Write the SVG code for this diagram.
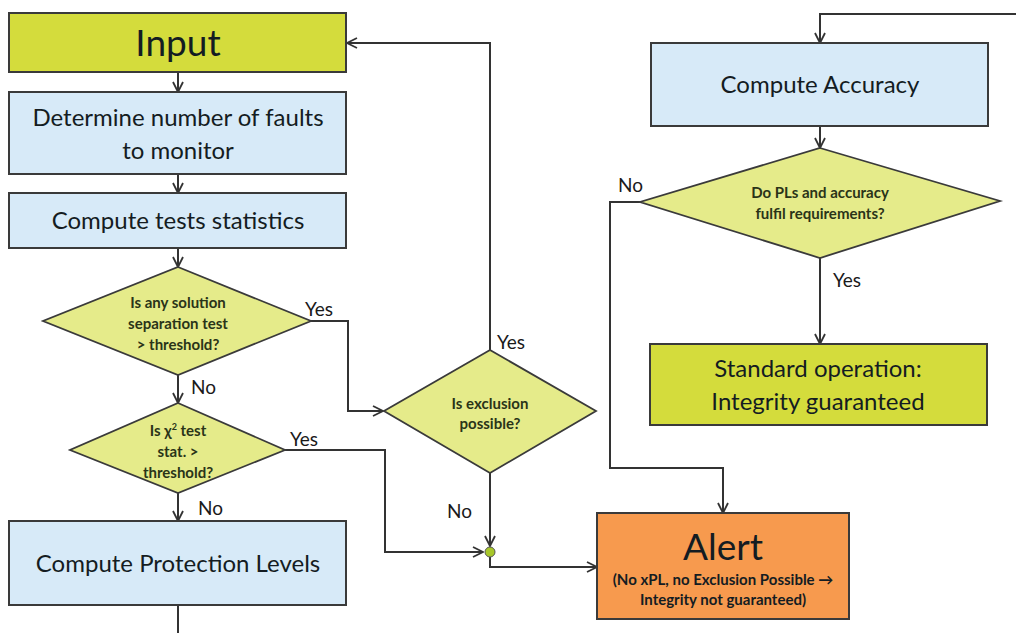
<svg xmlns="http://www.w3.org/2000/svg" width="1016" height="633" viewBox="0 0 1016 633">
  <style>
    .box { stroke: #3a3a3a; stroke-width: 2; }
    .green { fill: #d4dc3c; }
    .blue { fill: #d7eaf8; }
    .orange { fill: #f79a4e; }
    .dia { fill: #e5eb8a; stroke: #3a3a3a; stroke-width: 1.8; }
    .t { font-family: Lato, "Liberation Sans", sans-serif; fill: #141c22; text-anchor: middle; }
    .big { font-size: 24px; }
    .huge { font-size: 37px; }
    .q { font-size: 15px; font-weight: bold; fill: #2a3418; }
    .lbl { font-family: Lato, "Liberation Sans", sans-serif; font-size: 19px; fill: #1a1a1a; }
    .wire { fill: none; stroke: #333; stroke-width: 2; }
  </style>
  <defs>
    <marker id="arr" viewBox="0 0 12 12" refX="11" refY="6" markerWidth="12" markerHeight="12" markerUnits="userSpaceOnUse" orient="auto">
      <path d="M1,1 L11,6 L1,11" fill="none" stroke="#333" stroke-width="1.8"/>
    </marker>
  </defs>

  <rect width="1016" height="633" fill="#ffffff"/>

  <!-- connectors -->
  <g id="connectors">
    <path class="wire" d="M178,72 V92" marker-end="url(#arr)"/>
    <path class="wire" d="M178,174 V193" marker-end="url(#arr)"/>
    <path class="wire" d="M178,248 V267" marker-end="url(#arr)"/>
    <path class="wire" d="M178,375 V403" marker-end="url(#arr)"/>
    <path class="wire" d="M178,493 V521" marker-end="url(#arr)"/>
    <path class="wire" d="M178,605 V633"/>
    <!-- solution separation: yes -->
    <path class="wire" d="M311,321 H348 V411 H383" marker-end="url(#arr)"/>
    <!-- chi-square: yes -->
    <path class="wire" d="M285,450 H385 V552 H483" marker-end="url(#arr)"/>
    <!-- exclusion: yes, back to input -->
    <path class="wire" d="M490,350 V43 H347" marker-end="url(#arr)"/>
    <!-- exclusion: no -->
    <path class="wire" d="M490,473 V546" marker-end="url(#arr)"/>
    <!-- junction to alert -->
    <path class="wire" d="M490,557 V567 H597" marker-end="url(#arr)"/>
    <!-- right column -->
    <path class="wire" d="M1016,14 H820 V43" marker-end="url(#arr)"/>
    <path class="wire" d="M820,126 V148" marker-end="url(#arr)"/>
    <path class="wire" d="M820,258 V344" marker-end="url(#arr)"/>
    <path class="wire" d="M640,202 H610 V468 H723 V513" marker-end="url(#arr)"/>
    <circle cx="490" cy="552" r="5" fill="#a8c72a" stroke="#555" stroke-width="1"/>
    <text class="lbl" x="305" y="316">Yes</text>
    <text class="lbl" x="191" y="394">No</text>
    <text class="lbl" x="290" y="446">Yes</text>
    <text class="lbl" x="198" y="515">No</text>
    <text class="lbl" x="497" y="349">Yes</text>
    <text class="lbl" x="447" y="518">No</text>
    <text class="lbl" x="618" y="192">No</text>
    <text class="lbl" x="833" y="287">Yes</text>
  </g>

  <g id="input">
    <rect class="box green" x="9" y="13" width="337" height="59"/>
    <text class="t huge" x="178" y="56">Input</text>
  </g>

  <g id="determine-faults">
    <rect class="box blue" x="9" y="92" width="337" height="82"/>
    <text class="t big" x="178" y="126">Determine number of faults</text>
    <text class="t big" x="178" y="159">to monitor</text>
  </g>

  <g id="test-statistics">
    <rect class="box blue" x="9" y="193" width="337" height="55"/>
    <text class="t big" x="178" y="229">Compute tests statistics</text>
  </g>

  <g id="solution-separation">
    <polygon class="dia" points="178,267 311,321 178,375 43,321"/>
    <text class="t q" x="178" y="308">Is any solution</text>
    <text class="t q" x="178" y="329">separation test</text>
    <text class="t q" x="178" y="350">&gt; threshold?</text>
  </g>

  <g id="chi-square">
    <polygon class="dia" points="178,403 285,450 178,493 70,450"/>
    <text class="t q" x="178" y="436">Is χ<tspan font-size="9" dy="-6">2</tspan><tspan dy="6"> test</tspan></text>
    <text class="t q" x="178" y="457">stat. &gt;</text>
    <text class="t q" x="178" y="478">threshold?</text>
  </g>

  <g id="protection-levels">
    <rect class="box blue" x="9" y="521" width="337" height="84"/>
    <text class="t big" x="178" y="572">Compute Protection Levels</text>
  </g>

  <g id="exclusion">
    <polygon class="dia" points="490,350 596,411 490,473 384,411"/>
    <text class="t q" x="490" y="409">Is exclusion</text>
    <text class="t q" x="490" y="429">possible?</text>
  </g>

  <g id="accuracy">
    <rect class="box blue" x="651" y="43" width="337" height="83"/>
    <text class="t big" x="820" y="93">Compute Accuracy</text>
  </g>

  <g id="requirements">
    <polygon class="dia" points="820,148 1000,201 820,258 640,202"/>
    <text class="t q" x="820" y="198">Do PLs and accuracy</text>
    <text class="t q" x="820" y="219">fulfil requirements?</text>
  </g>

  <g id="standard-operation">
    <rect class="box green" x="650" y="344" width="337" height="81"/>
    <text class="t big" x="818" y="377">Standard operation:</text>
    <text class="t big" x="818" y="410">Integrity guaranteed</text>
  </g>

  <g id="alert">
    <rect class="box orange" x="597" y="513" width="252" height="106"/>
    <text class="t huge" x="723" y="560">Alert</text>
    <text class="t" x="723" y="585" font-size="15" font-weight="bold">(No xPL, no Exclusion Possible →</text>
    <text class="t" x="723" y="605" font-size="15" font-weight="bold">Integrity not guaranteed)</text>
  </g>
</svg>
